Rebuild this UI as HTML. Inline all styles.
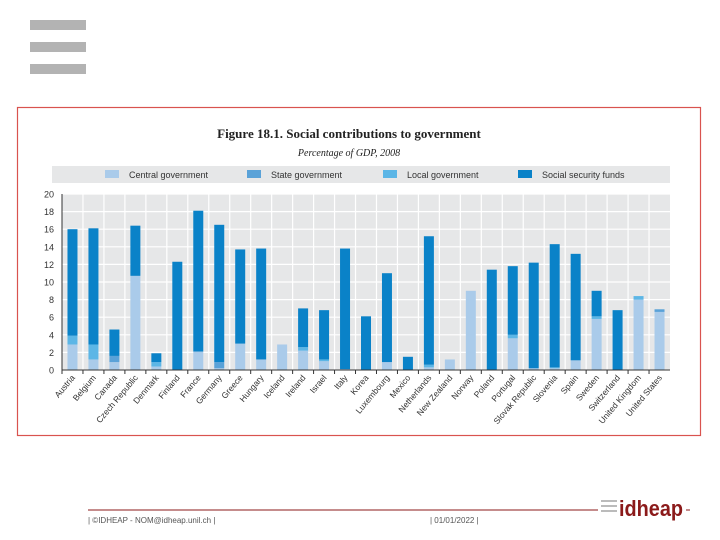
<!DOCTYPE html>
<html><head><meta charset="utf-8"><style>
body{margin:0;width:720px;height:540px;background:#fff;position:relative;overflow:hidden;font-family:"Liberation Sans",sans-serif}
.bar{position:absolute;left:30px;width:56px;height:10px;background:#b3b3b3}
</style></head><body>
<div class="bar" style="top:20px"></div>
<div class="bar" style="top:42px"></div>
<div class="bar" style="top:64px"></div>
<svg id="chart" width="720" height="540" style="position:absolute;left:0;top:0">
<rect x="17.5" y="107.5" width="683" height="328" fill="none" stroke="#d9534f" stroke-width="1.2"/>
<text x="349" y="138" text-anchor="middle" font-family="Liberation Serif,serif" font-size="13" font-weight="bold" fill="#222">Figure 18.1.  Social contributions to government</text>
<text x="349" y="156" text-anchor="middle" font-family="Liberation Serif,serif" font-size="10" font-style="italic" fill="#222">Percentage of GDP, 2008</text>
<rect x="52" y="166" width="618" height="17" fill="#e6e7e8"/>
<g id="legend"></g>
<g id="plot"></g>
<line x1="88" y1="510" x2="690" y2="510" stroke="#8b1a1a" stroke-width="1"/>
<text x="88" y="523" font-size="8" fill="#555">| ©IDHEAP - NOM@idheap.unil.ch |</text>
<text x="430" y="523" font-size="8" fill="#555">| 01/01/2022 |</text>
<rect x="598" y="494" width="88" height="30" fill="#fff"/>
<text x="619" y="516" font-size="22" font-weight="bold" fill="#8b1a1a" textLength="64" lengthAdjust="spacingAndGlyphs">idheap</text>
<g stroke="#bbb" stroke-width="2"><line x1="601" y1="501" x2="617" y2="501"/><line x1="601" y1="506" x2="617" y2="506"/><line x1="601" y1="511" x2="617" y2="511"/></g>
</svg>
<script>
const categories=["Austria","Belgium","Canada","Czech Republic","Denmark","Finland","France","Germany","Greece","Hungary","Iceland","Ireland","Israel","Italy","Korea","Luxembourg","Mexico","Netherlands","New Zealand","Norway","Poland","Portugal","Slovak Republic","Slovenia","Spain","Sweden","Switzerland","United Kingdom","United States"];
const central=[2.9,1.2,0.9,10.7,0.4,0,2.1,0.2,3.0,1.2,2.9,2.2,1.0,0.1,0,0.9,0,0.3,1.2,9.0,0,3.6,0.2,0.2,1.1,5.8,0,8.0,6.6];
const state=[0,0,0.7,0,0,0,0,0.7,0,0,0,0,0,0,0,0,0,0,0,0,0,0,0,0,0,0,0,0,0.3];
const local=[1.0,1.7,0,0,0.5,0,0,0,0,0,0,0.4,0.2,0,0,0,0,0.3,0,0,0,0.4,0,0.1,0,0.3,0,0.4,0];
const social=[12.1,13.2,3.0,5.7,1.0,12.3,16.0,15.6,10.7,12.6,0,4.4,5.6,13.7,6.1,10.1,1.5,14.6,0,0,11.4,7.8,12.0,14.0,12.1,2.9,6.8,0,0];
const ticks=[0,2,4,6,8,10,12,14,16,18,20];
const seriesNames=["Central government","State government","Local government","Social security funds"];
const colors=["#aacbea","#5aa2d8","#5cb6e6","#0a82c8"];
const NS="http://www.w3.org/2000/svg";
const X0=62,X1=670,Y0=370,Y1=194;
const yScale=v=>Y0-(v/20)*(Y0-Y1);
const slot=(X1-X0)/categories.length;
const xScale=i=>X0+slot*i;
function mk(t,a,p){const e=document.createElementNS(NS,t);for(const k in a)e.setAttribute(k,a[k]);p.appendChild(e);return e;}
const plot=document.getElementById('plot');
const bg=mk('rect',{x:X0,y:Y1,width:X1-X0,height:Y0-Y1,fill:'#e6e7e8'},plot);


ticks.forEach(t=>{
 const y=yScale(t);
 const g=mk('line',{x1:X0,x2:X1,y1:y,y2:y,stroke:'#fff','stroke-width':1.2},plot);
 
 
 const tx=mk('text',{x:X0-8,y:y+3.5,'text-anchor':'end','font-size':9,fill:'#333'},plot);
 tx.textContent=t;
 
 
});
for(let i=1;i<categories.length;i++){
 const x=xScale(i);
 const g=mk('line',{x1:x,x2:x,y1:Y1,y2:Y0,stroke:'#fff','stroke-width':1.2},plot);
 
 
}
const series=[central,state,local,social];
const bw=10;
categories.forEach((c,i)=>{
 let cum=0;const cx=xScale(i)+slot/2;
 series.forEach((s,k)=>{
  const v=s[i];if(v<=0)return;
  const r=mk('rect',{x:cx-bw/2,y:yScale(cum+v),width:bw,height:yScale(cum)-yScale(cum+v),fill:colors[k]},plot);
  
  
  cum+=v;
 });
 const tk=mk('line',{x1:xScale(i),x2:xScale(i),y1:Y0,y2:Y0+4,stroke:'#333'},plot);
 
 
 const lb=mk('text',{x:cx+3,y:Y0+8,'text-anchor':'end','font-size':8.5,fill:'#333',transform:`rotate(-50 ${cx+3} ${Y0+8})`},plot);
 lb.textContent=c;
 
 
});
const ax=mk('line',{x1:X0,x2:X1,y1:Y0,y2:Y0,stroke:'#333'},plot);


const ay=mk('line',{x1:X0,x2:X0,y1:Y1,y2:Y0,stroke:'#333'},plot);


const leg=document.getElementById('legend');
const lx=[105,247,383,518];
seriesNames.forEach((n,k)=>{
 const r=mk('rect',{x:lx[k],y:170,width:14,height:8,fill:colors[k]},leg);
 
 
 const t=mk('text',{x:lx[k]+24,y:178,'font-size':9,fill:'#333'},leg);
 t.textContent=n;
 
 
});
</script>
</body></html>
